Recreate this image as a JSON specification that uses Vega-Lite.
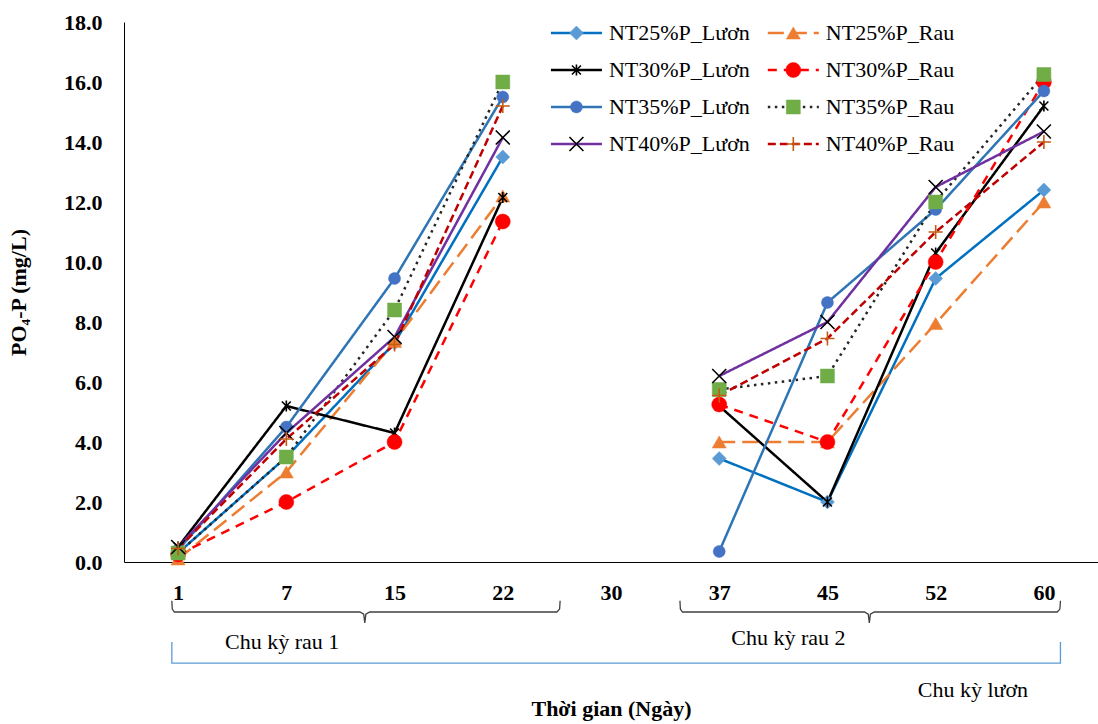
{
  "$schema": "https://vega.github.io/schema/vega-lite/v6.json",
  "width": 974,
  "height": 540,
  "autosize": "none",
  "padding": {"left": 124, "top": 22, "right": 0, "bottom": 162},
  "background": "white",
  "config": {
    "view": {"stroke": null},
    "font": "Liberation Serif",
    "axis": {
      "grid": false, "ticks": false, "domainColor": "#000000", "domainWidth": 1,
      "labelFont": "Liberation Serif", "labelFontWeight": "bold", "labelFontSize": 22, "labelColor": "#000000",
      "titleFont": "Liberation Serif", "titleFontWeight": "bold", "titleFontSize": 22, "titleColor": "#000000"
    },
    "axisY": {"labelPadding": 22, "titlePadding": 33, "tickCount": 10},
    "axisX": {"labelPadding": 20, "titlePadding": 95, "labelAngle": 0}
  },
  "datasets": {
    "obs": [
      {"series": "NT25%P_Lươn", "cycle": "rau1", "day": "1", "value": 0.3},
      {"series": "NT25%P_Lươn", "cycle": "rau1", "day": "7", "value": 3.5},
      {"series": "NT25%P_Lươn", "cycle": "rau1", "day": "15", "value": 7.3},
      {"series": "NT25%P_Lươn", "cycle": "rau1", "day": "22", "value": 13.5},
      {"series": "NT25%P_Lươn", "cycle": "rau2", "day": "37", "value": 3.45},
      {"series": "NT25%P_Lươn", "cycle": "rau2", "day": "45", "value": 2.0},
      {"series": "NT25%P_Lươn", "cycle": "rau2", "day": "52", "value": 9.45},
      {"series": "NT25%P_Lươn", "cycle": "rau2", "day": "60", "value": 12.4},
      {"series": "NT25%P_Rau", "cycle": "rau1", "day": "1", "value": 0.1},
      {"series": "NT25%P_Rau", "cycle": "rau1", "day": "7", "value": 3.0},
      {"series": "NT25%P_Rau", "cycle": "rau1", "day": "15", "value": 7.35},
      {"series": "NT25%P_Rau", "cycle": "rau1", "day": "22", "value": 12.2},
      {"series": "NT25%P_Rau", "cycle": "rau2", "day": "37", "value": 4.0},
      {"series": "NT25%P_Rau", "cycle": "rau2", "day": "45", "value": 4.0},
      {"series": "NT25%P_Rau", "cycle": "rau2", "day": "52", "value": 7.95},
      {"series": "NT25%P_Rau", "cycle": "rau2", "day": "60", "value": 12.0},
      {"series": "NT30%P_Lươn", "cycle": "rau1", "day": "1", "value": 0.5},
      {"series": "NT30%P_Lươn", "cycle": "rau1", "day": "7", "value": 5.2},
      {"series": "NT30%P_Lươn", "cycle": "rau1", "day": "15", "value": 4.3},
      {"series": "NT30%P_Lươn", "cycle": "rau1", "day": "22", "value": 12.15},
      {"series": "NT30%P_Lươn", "cycle": "rau2", "day": "37", "value": 5.2},
      {"series": "NT30%P_Lươn", "cycle": "rau2", "day": "45", "value": 2.0},
      {"series": "NT30%P_Lươn", "cycle": "rau2", "day": "52", "value": 10.3},
      {"series": "NT30%P_Lươn", "cycle": "rau2", "day": "60", "value": 15.2},
      {"series": "NT30%P_Rau", "cycle": "rau1", "day": "1", "value": 0.25},
      {"series": "NT30%P_Rau", "cycle": "rau1", "day": "7", "value": 2.0},
      {"series": "NT30%P_Rau", "cycle": "rau1", "day": "15", "value": 4.0},
      {"series": "NT30%P_Rau", "cycle": "rau1", "day": "22", "value": 11.35},
      {"series": "NT30%P_Rau", "cycle": "rau2", "day": "37", "value": 5.25},
      {"series": "NT30%P_Rau", "cycle": "rau2", "day": "45", "value": 4.0},
      {"series": "NT30%P_Rau", "cycle": "rau2", "day": "52", "value": 10.0},
      {"series": "NT30%P_Rau", "cycle": "rau2", "day": "60", "value": 16.0},
      {"series": "NT35%P_Lươn", "cycle": "rau1", "day": "1", "value": 0.4},
      {"series": "NT35%P_Lươn", "cycle": "rau1", "day": "7", "value": 4.5},
      {"series": "NT35%P_Lươn", "cycle": "rau1", "day": "15", "value": 9.45},
      {"series": "NT35%P_Lươn", "cycle": "rau1", "day": "22", "value": 15.5},
      {"series": "NT35%P_Lươn", "cycle": "rau2", "day": "37", "value": 0.35},
      {"series": "NT35%P_Lươn", "cycle": "rau2", "day": "45", "value": 8.65},
      {"series": "NT35%P_Lươn", "cycle": "rau2", "day": "52", "value": 11.75},
      {"series": "NT35%P_Lươn", "cycle": "rau2", "day": "60", "value": 15.7},
      {"series": "NT35%P_Rau", "cycle": "rau1", "day": "1", "value": 0.3},
      {"series": "NT35%P_Rau", "cycle": "rau1", "day": "7", "value": 3.5},
      {"series": "NT35%P_Rau", "cycle": "rau1", "day": "15", "value": 8.4},
      {"series": "NT35%P_Rau", "cycle": "rau1", "day": "22", "value": 16.0},
      {"series": "NT35%P_Rau", "cycle": "rau2", "day": "37", "value": 5.75},
      {"series": "NT35%P_Rau", "cycle": "rau2", "day": "45", "value": 6.2},
      {"series": "NT35%P_Rau", "cycle": "rau2", "day": "52", "value": 12.0},
      {"series": "NT35%P_Rau", "cycle": "rau2", "day": "60", "value": 16.25},
      {"series": "NT40%P_Lươn", "cycle": "rau1", "day": "1", "value": 0.5},
      {"series": "NT40%P_Lươn", "cycle": "rau1", "day": "7", "value": 4.3},
      {"series": "NT40%P_Lươn", "cycle": "rau1", "day": "15", "value": 7.5},
      {"series": "NT40%P_Lươn", "cycle": "rau1", "day": "22", "value": 14.15},
      {"series": "NT40%P_Lươn", "cycle": "rau2", "day": "37", "value": 6.2},
      {"series": "NT40%P_Lươn", "cycle": "rau2", "day": "45", "value": 8.0},
      {"series": "NT40%P_Lươn", "cycle": "rau2", "day": "52", "value": 12.5},
      {"series": "NT40%P_Lươn", "cycle": "rau2", "day": "60", "value": 14.35},
      {"series": "NT40%P_Rau", "cycle": "rau1", "day": "1", "value": 0.45},
      {"series": "NT40%P_Rau", "cycle": "rau1", "day": "7", "value": 4.1},
      {"series": "NT40%P_Rau", "cycle": "rau1", "day": "15", "value": 7.25},
      {"series": "NT40%P_Rau", "cycle": "rau1", "day": "22", "value": 15.2},
      {"series": "NT40%P_Rau", "cycle": "rau2", "day": "37", "value": 5.55},
      {"series": "NT40%P_Rau", "cycle": "rau2", "day": "45", "value": 7.45},
      {"series": "NT40%P_Rau", "cycle": "rau2", "day": "52", "value": 11.0},
      {"series": "NT40%P_Rau", "cycle": "rau2", "day": "60", "value": 14.0}
    ],
    "legend": [
      {"series": "NT25%P_Lươn", "lx": 3.945, "ly": 17.633},
      {"series": "NT30%P_Lươn", "lx": 3.945, "ly": 16.4},
      {"series": "NT35%P_Lươn", "lx": 3.945, "ly": 15.167},
      {"series": "NT40%P_Lươn", "lx": 3.945, "ly": 13.933},
      {"series": "NT25%P_Rau", "lx": 5.949, "ly": 17.633},
      {"series": "NT30%P_Rau", "lx": 5.949, "ly": 16.4},
      {"series": "NT35%P_Rau", "lx": 5.949, "ly": 15.167},
      {"series": "NT40%P_Rau", "lx": 5.949, "ly": 13.933}
    ],
    "brace": [
      {"b": "rau1", "k": 1, "ax": 0.442, "ay": -1.29},
      {"b": "rau1", "k": 2, "ax": 0.446, "ay": -1.57},
      {"b": "rau1", "k": 3, "ax": 0.465, "ay": -1.667},
      {"b": "rau1", "k": 4, "ax": 2.18, "ay": -1.667},
      {"b": "rau1", "k": 5, "ax": 2.215, "ay": -1.74},
      {"b": "rau1", "k": 6, "ax": 2.225, "ay": -2.03},
      {"b": "rau1", "k": 7, "ax": 2.235, "ay": -1.74},
      {"b": "rau1", "k": 8, "ax": 2.27, "ay": -1.667},
      {"b": "rau1", "k": 9, "ax": 4.0, "ay": -1.667},
      {"b": "rau1", "k": 10, "ax": 4.025, "ay": -1.57},
      {"b": "rau1", "k": 11, "ax": 4.03, "ay": -1.29},
      {"b": "rau2", "k": 1, "ax": 5.137, "ay": -1.29},
      {"b": "rau2", "k": 2, "ax": 5.141, "ay": -1.57},
      {"b": "rau2", "k": 3, "ax": 5.16, "ay": -1.667},
      {"b": "rau2", "k": 4, "ax": 6.842, "ay": -1.667},
      {"b": "rau2", "k": 5, "ax": 6.877, "ay": -1.74},
      {"b": "rau2", "k": 6, "ax": 6.887, "ay": -2.03},
      {"b": "rau2", "k": 7, "ax": 6.897, "ay": -1.74},
      {"b": "rau2", "k": 8, "ax": 6.932, "ay": -1.667},
      {"b": "rau2", "k": 9, "ax": 8.623, "ay": -1.667},
      {"b": "rau2", "k": 10, "ax": 8.648, "ay": -1.57},
      {"b": "rau2", "k": 11, "ax": 8.653, "ay": -1.29}
    ],
    "bracket": [
      {"k": 1, "ax": 0.442, "ay": -2.67},
      {"k": 2, "ax": 0.442, "ay": -3.37},
      {"k": 3, "ax": 8.653, "ay": -3.37},
      {"k": 4, "ax": 8.653, "ay": -2.67}
    ],
    "notes": [
      {"label": "Chu kỳ rau 1", "ax": 1.462, "ay": -2.67},
      {"label": "Chu kỳ rau 2", "ax": 6.14, "ay": -2.53},
      {"label": "Chu kỳ lươn", "ax": 7.844, "ay": -4.27}
    ]
  },
  "resolve": {"scale": {"x": "independent", "stroke": "independent"}},
  "layer": [
    {
      "data": {"name": "obs"},
      "mark": {"type": "line", "strokeWidth": 2.5, "strokeCap": "butt"},
      "encoding": {
        "x": {"field": "day", "type": "ordinal", "sort": null,
              "scale": {"type": "point", "padding": 0.5, "domain": ["1", "7", "15", "22", "30", "37", "45", "52", "60"]},
              "axis": {"title": "Thời gian (Ngày)"}},
        "y": {"field": "value", "type": "quantitative", "title": "PO₄-P (mg/L)",
              "scale": {"domain": [0, 18], "nice": false, "zero": false},
              "axis": {"format": ".1f", "values": [0, 2, 4, 6, 8, 10, 12, 14, 16, 18]}},
        "stroke": {"field": "series", "type": "nominal", "legend": null,
                   "scale": {"domain": ["NT25%P_Lươn", "NT25%P_Rau", "NT30%P_Lươn", "NT30%P_Rau", "NT35%P_Lươn", "NT35%P_Rau", "NT40%P_Lươn", "NT40%P_Rau"],
                             "range": ["#0070C0", "#ED7D31", "#000000", "#FF0000", "#2E75B6", "#262626", "#7030A0", "#C00000"]}},
        "strokeDash": {"field": "series", "type": "nominal", "legend": null,
                       "scale": {"domain": ["NT25%P_Lươn", "NT25%P_Rau", "NT30%P_Lươn", "NT30%P_Rau", "NT35%P_Lươn", "NT35%P_Rau", "NT40%P_Lươn", "NT40%P_Rau"],
                                 "range": [[1, 0], [16, 7], [1, 0], [9, 7], [1, 0], [2.5, 4.5], [1, 0], [8, 4]]}},
        "detail": {"field": "cycle"}
      }
    },
    {
      "data": {"name": "obs"},
      "mark": {"type": "point", "filled": true, "opacity": 1},
      "encoding": {
        "x": {"field": "day", "type": "ordinal", "sort": null,
              "scale": {"type": "point", "padding": 0.5, "domain": ["1", "7", "15", "22", "30", "37", "45", "52", "60"]},
              "axis": null},
        "y": {"field": "value", "type": "quantitative", "title": "PO₄-P (mg/L)",
              "scale": {"domain": [0, 18], "nice": false, "zero": false}},
        "shape": {"field": "series", "type": "nominal", "legend": null,
                  "scale": {"domain": ["NT25%P_Lươn", "NT25%P_Rau", "NT30%P_Lươn", "NT30%P_Rau", "NT35%P_Lươn", "NT35%P_Rau", "NT40%P_Lươn", "NT40%P_Rau"],
                            "range": ["diamond", "triangle-up", "M0,-1L0,1M-0.8,-0.8L0.8,0.8M-0.8,0.8L0.8,-0.8", "circle", "circle", "square", "M-1,-1L1,1M-1,1L1,-1", "M-1,0L1,0M0,-1L0,1"]}},
        "fill": {"field": "series", "type": "nominal", "legend": null,
                 "scale": {"domain": ["NT25%P_Lươn", "NT25%P_Rau", "NT30%P_Lươn", "NT30%P_Rau", "NT35%P_Lươn", "NT35%P_Rau", "NT40%P_Lươn", "NT40%P_Rau"],
                           "range": ["#5B9BD5", "#ED7D31", "#000000", "#FF0000", "#4472C4", "#70AD47", "#000000", "#C55A11"]}},
        "stroke": {"field": "series", "type": "nominal", "legend": null,
                   "scale": {"domain": ["NT25%P_Lươn", "NT25%P_Rau", "NT30%P_Lươn", "NT30%P_Rau", "NT35%P_Lươn", "NT35%P_Rau", "NT40%P_Lươn", "NT40%P_Rau"],
                             "range": ["#5B9BD5", "#ED7D31", "#000000", "#FF0000", "#4472C4", "#70AD47", "#000000", "#C55A11"]}},
        "size": {"condition": [
                   {"test": "datum.series === 'NT30%P_Lươn'", "value": 125},
                   {"test": "datum.series === 'NT35%P_Lươn'", "value": 144},
                   {"test": "datum.series === 'NT30%P_Rau'", "value": 225}
                 ], "value": 196},
        "strokeWidth": {"condition": {"test": "indexof(['NT30%P_Lươn', 'NT40%P_Lươn', 'NT40%P_Rau'], datum.series) >= 0", "value": 1.6}, "value": 0.5}
      }
    },
    {
      "data": {"name": "legend"},
      "mark": {"type": "rule", "strokeWidth": 2.5, "strokeCap": "butt", "x2Offset": 51},
      "encoding": {
        "x": {"field": "lx", "type": "quantitative", "scale": {"domain": [0, 9], "nice": false, "zero": false}, "axis": null},
        "x2": {"field": "lx"},
        "y": {"field": "ly", "type": "quantitative", "title": "PO₄-P (mg/L)",
              "scale": {"domain": [0, 18], "nice": false, "zero": false}},
        "stroke": {"field": "series", "type": "nominal", "legend": null,
                   "scale": {"domain": ["NT25%P_Lươn", "NT25%P_Rau", "NT30%P_Lươn", "NT30%P_Rau", "NT35%P_Lươn", "NT35%P_Rau", "NT40%P_Lươn", "NT40%P_Rau"],
                             "range": ["#0070C0", "#ED7D31", "#000000", "#FF0000", "#2E75B6", "#262626", "#7030A0", "#C00000"]}},
        "strokeDash": {"field": "series", "type": "nominal", "legend": null,
                       "scale": {"domain": ["NT25%P_Lươn", "NT25%P_Rau", "NT30%P_Lươn", "NT30%P_Rau", "NT35%P_Lươn", "NT35%P_Rau", "NT40%P_Lươn", "NT40%P_Rau"],
                                 "range": [[1, 0], [16, 7], [1, 0], [9, 7], [1, 0], [2.5, 4.5], [1, 0], [8, 4]]}}
      }
    },
    {
      "data": {"name": "legend"},
      "mark": {"type": "point", "filled": true, "opacity": 1, "xOffset": 25.5},
      "encoding": {
        "x": {"field": "lx", "type": "quantitative", "scale": {"domain": [0, 9], "nice": false, "zero": false}, "axis": null},
        "y": {"field": "ly", "type": "quantitative", "title": "PO₄-P (mg/L)",
              "scale": {"domain": [0, 18], "nice": false, "zero": false}},
        "shape": {"field": "series", "type": "nominal", "legend": null,
                  "scale": {"domain": ["NT25%P_Lươn", "NT25%P_Rau", "NT30%P_Lươn", "NT30%P_Rau", "NT35%P_Lươn", "NT35%P_Rau", "NT40%P_Lươn", "NT40%P_Rau"],
                            "range": ["diamond", "triangle-up", "M0,-1L0,1M-0.8,-0.8L0.8,0.8M-0.8,0.8L0.8,-0.8", "circle", "circle", "square", "M-1,-1L1,1M-1,1L1,-1", "M-1,0L1,0M0,-1L0,1"]}},
        "fill": {"field": "series", "type": "nominal", "legend": null,
                 "scale": {"domain": ["NT25%P_Lươn", "NT25%P_Rau", "NT30%P_Lươn", "NT30%P_Rau", "NT35%P_Lươn", "NT35%P_Rau", "NT40%P_Lươn", "NT40%P_Rau"],
                           "range": ["#5B9BD5", "#ED7D31", "#000000", "#FF0000", "#4472C4", "#70AD47", "#000000", "#C55A11"]}},
        "stroke": {"field": "series", "type": "nominal", "legend": null,
                   "scale": {"domain": ["NT25%P_Lươn", "NT25%P_Rau", "NT30%P_Lươn", "NT30%P_Rau", "NT35%P_Lươn", "NT35%P_Rau", "NT40%P_Lươn", "NT40%P_Rau"],
                             "range": ["#5B9BD5", "#ED7D31", "#000000", "#FF0000", "#4472C4", "#70AD47", "#000000", "#C55A11"]}},
        "size": {"condition": [
                   {"test": "datum.series === 'NT30%P_Lươn'", "value": 125},
                   {"test": "datum.series === 'NT35%P_Lươn'", "value": 144},
                   {"test": "datum.series === 'NT30%P_Rau'", "value": 225}
                 ], "value": 196},
        "strokeWidth": {"condition": {"test": "indexof(['NT30%P_Lươn', 'NT40%P_Lươn', 'NT40%P_Rau'], datum.series) >= 0", "value": 1.6}, "value": 0.5}
      }
    },
    {
      "data": {"name": "legend"},
      "mark": {"type": "text", "xOffset": 58, "align": "left", "baseline": "middle", "font": "Liberation Serif", "fontSize": 22, "color": "#000000"},
      "encoding": {
        "x": {"field": "lx", "type": "quantitative", "scale": {"domain": [0, 9], "nice": false, "zero": false}, "axis": null},
        "y": {"field": "ly", "type": "quantitative", "title": "PO₄-P (mg/L)",
              "scale": {"domain": [0, 18], "nice": false, "zero": false}},
        "text": {"field": "series"}
      }
    },
    {
      "data": {"name": "brace"},
      "mark": {"type": "line", "stroke": "#404040", "strokeWidth": 1.3},
      "encoding": {
        "x": {"field": "ax", "type": "quantitative", "scale": {"domain": [0, 9], "nice": false, "zero": false}, "axis": null},
        "y": {"field": "ay", "type": "quantitative", "title": "PO₄-P (mg/L)",
              "scale": {"domain": [0, 18], "nice": false, "zero": false}},
        "detail": {"field": "b"},
        "order": {"field": "k", "type": "quantitative"}
      }
    },
    {
      "data": {"name": "bracket"},
      "mark": {"type": "line", "stroke": "#5B9BD5", "strokeWidth": 1.3},
      "encoding": {
        "x": {"field": "ax", "type": "quantitative", "scale": {"domain": [0, 9], "nice": false, "zero": false}, "axis": null},
        "y": {"field": "ay", "type": "quantitative", "title": "PO₄-P (mg/L)",
              "scale": {"domain": [0, 18], "nice": false, "zero": false}},
        "order": {"field": "k", "type": "quantitative"}
      }
    },
    {
      "data": {"name": "notes"},
      "mark": {"type": "text", "align": "center", "baseline": "middle", "font": "Liberation Serif", "fontSize": 22, "color": "#000000"},
      "encoding": {
        "x": {"field": "ax", "type": "quantitative", "scale": {"domain": [0, 9], "nice": false, "zero": false}, "axis": null},
        "y": {"field": "ay", "type": "quantitative", "title": "PO₄-P (mg/L)",
              "scale": {"domain": [0, 18], "nice": false, "zero": false}},
        "text": {"field": "label"}
      }
    }
  ]
}
